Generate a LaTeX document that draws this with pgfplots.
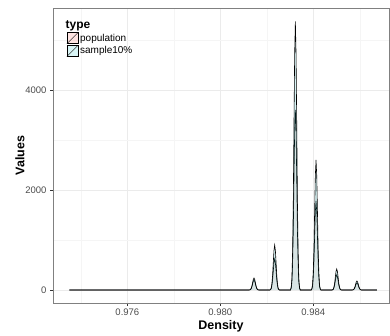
\documentclass[border=0pt]{standalone}
\usepackage{pgfplots}
\pgfplotsset{compat=1.18}
\usepackage{fontspec}
\setmainfont{Liberation Sans}
\definecolor{popc}{HTML}{F8766D}
\definecolor{smpc}{HTML}{00BFC4}
\definecolor{gridmaj}{HTML}{EBEBEB}
\definecolor{gridmin}{HTML}{F5F5F5}
\begin{document}
\begin{tikzpicture}
\begin{axis}[
  at={(0pt,0pt)}, anchor=south west,
  scale only axis, width=336pt, height=295pt,
  xmin=0.97280, xmax=0.98726, ymin=-260, ymax=5640,
  xtick={0.976,0.980,0.984}, minor xtick={0.974,0.978,0.982,0.986},
  ytick={0,2000,4000}, minor ytick={1000,3000,5000},
  xticklabels={0.976,0.980,0.984},
  grid=both,
  major grid style={draw=gridmaj, line width=0.5pt},
  minor grid style={draw=gridmin, line width=0.4pt},
  axis line style={draw=black!50, line width=0.6pt},
  tick align=outside, tick pos=left,
  major tick length=3pt, minor tick length=0pt,
  every tick/.style={draw=black!80, line width=0.5pt},
  /pgf/number format/assume math mode=true,
  /pgf/number format/1000 sep={},
  scaled x ticks=false, scaled y ticks=false,
  tick label style={font=\fontsize{9.5}{10}\selectfont, text=black!70},
  xticklabel style={yshift=1pt},
  xlabel={Density}, ylabel={Values},
  xlabel style={font=\fontsize{12.5}{13}\selectfont\bfseries, at={(axis description cs:0.5,0)}, anchor=center, yshift=-23pt},
  ylabel style={font=\fontsize{12.5}{13}\selectfont\bfseries, at={(axis description cs:0,0.5)}, anchor=center, yshift=33pt},
  legend style={at={(axis description cs:0.04,0.965)}, anchor=north west, draw=none, fill=none,
    font=\fontsize{10}{11}\selectfont, row sep=0pt, inner sep=0pt, cells={anchor=west}},
  legend cell align=left,
]
\addlegendimage{empty legend}
\addlegendentry{\hspace{-1.45em}\fontsize{12}{12}\selectfont\bfseries type}
\addlegendimage{legend image code/.code={
  \draw[draw=black, line width=0.5pt, fill=popc, fill opacity=0.2] (0pt,-5.5pt) rectangle (11pt,5.5pt);
  \draw[black, line width=0.5pt] (0pt,-5.5pt) -- (11pt,5.5pt);}}
\addlegendentry{population}
\addlegendimage{legend image code/.code={
  \draw[draw=black, line width=0.5pt, fill=smpc, fill opacity=0.15] (0pt,-5.5pt) rectangle (11pt,5.5pt);
  \draw[black, line width=0.5pt] (0pt,-5.5pt) -- (11pt,5.5pt);}}
\addlegendentry{sample10\%}
% population
\addplot[draw=black, line width=0.6pt, fill=popc, fill opacity=0.15, forget plot] coordinates {
(0.97350,0) (0.98124,0)
(0.98127,2) (0.98130,8) (0.98133,28) (0.98136,64) (0.98139,122) (0.98142,176) (0.98145,200)
(0.98148,176) (0.98151,122) (0.98154,64) (0.98157,28) (0.98160,8) (0.98163,2) (0.98166,0)
(0.98213,0)
(0.98216,6) (0.98219,25) (0.98222,87) (0.98225,198) (0.98228,378) (0.98231,546) (0.98234,620)
(0.98237,546) (0.98240,378) (0.98243,198) (0.98246,87) (0.98249,25) (0.98252,6) (0.98255,0)
(0.98302,0)
(0.98305,36) (0.98308,144) (0.98311,504) (0.98314,1152) (0.98317,2196) (0.98320,3168) (0.98323,3600)
(0.98326,3168) (0.98329,2196) (0.98332,1152) (0.98335,504) (0.98338,144) (0.98341,36) (0.98344,0)
(0.98391,0)
(0.98394,18) (0.98397,71) (0.98400,249) (0.98403,570) (0.98406,1086) (0.98409,1566) (0.98412,1780)
(0.98415,1566) (0.98418,1086) (0.98421,570) (0.98424,249) (0.98427,71) (0.98430,18) (0.98433,0)
(0.98480,0)
(0.98483,3) (0.98486,12) (0.98489,42) (0.98492,96) (0.98495,183) (0.98498,264) (0.98501,300)
(0.98504,264) (0.98507,183) (0.98510,96) (0.98513,42) (0.98516,12) (0.98519,3) (0.98522,0)
(0.98567,0)
(0.98570,1) (0.98573,6) (0.98576,20) (0.98579,45) (0.98582,85) (0.98585,123) (0.98588,140)
(0.98591,123) (0.98594,85) (0.98597,45) (0.98600,20) (0.98603,6) (0.98606,1) (0.98609,0)
(0.98674,0)
};
% sample10%
\addplot[draw=black, line width=0.6pt, fill=smpc, fill opacity=0.15, forget plot] coordinates {
(0.97350,0) (0.98124,0)
(0.98127,2) (0.98130,10) (0.98133,34) (0.98136,77) (0.98139,146) (0.98142,211) (0.98145,240)
(0.98148,211) (0.98151,146) (0.98154,77) (0.98157,34) (0.98160,10) (0.98163,2) (0.98166,0)
(0.98213,0)
(0.98216,9) (0.98219,36) (0.98222,126) (0.98225,288) (0.98228,549) (0.98231,792) (0.98234,900)
(0.98237,792) (0.98240,549) (0.98243,288) (0.98246,126) (0.98249,36) (0.98252,9) (0.98255,0)
(0.98302,0)
(0.98305,54) (0.98308,215) (0.98311,752) (0.98314,1718) (0.98317,3276) (0.98320,4726) (0.98323,5370)
(0.98326,4726) (0.98329,3276) (0.98332,1718) (0.98335,752) (0.98338,215) (0.98341,54) (0.98344,0)
(0.98391,0)
(0.98394,26) (0.98397,104) (0.98400,364) (0.98403,832) (0.98406,1586) (0.98409,2288) (0.98412,2600)
(0.98415,2288) (0.98418,1586) (0.98421,832) (0.98424,364) (0.98427,104) (0.98430,26) (0.98433,0)
(0.98480,0)
(0.98483,4) (0.98486,17) (0.98489,59) (0.98492,134) (0.98495,256) (0.98498,370) (0.98501,420)
(0.98504,370) (0.98507,256) (0.98510,134) (0.98513,59) (0.98516,17) (0.98519,4) (0.98522,0)
(0.98567,0)
(0.98570,2) (0.98573,7) (0.98576,25) (0.98579,58) (0.98582,110) (0.98585,158) (0.98588,180)
(0.98591,158) (0.98594,110) (0.98597,58) (0.98600,25) (0.98603,7) (0.98606,2) (0.98609,0)
(0.98674,0)
};
\end{axis}
\pgfresetboundingbox
\useasboundingbox (-53pt,-33pt) rectangle (337pt,303pt);
\end{tikzpicture}
\end{document}
